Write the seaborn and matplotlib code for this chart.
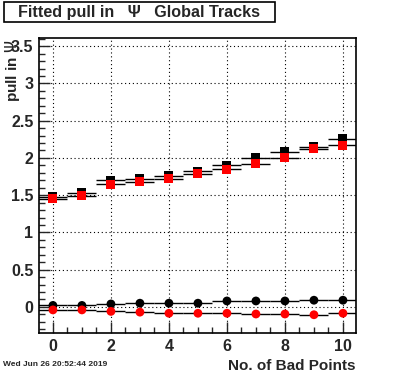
import numpy as np
import pandas as pd
import matplotlib
matplotlib.use("Agg")
import matplotlib.pyplot as plt
import seaborn as sns
from matplotlib.ticker import MultipleLocator
from matplotlib.patches import Rectangle

bad_points = [0, 1, 2, 3, 4, 5, 6, 7, 8, 9, 10]
pull_black_sq = [1.48, 1.53, 1.70, 1.72, 1.76, 1.82, 1.90, 2.00, 2.08, 2.15, 2.26]
pull_red_sq = [1.45, 1.49, 1.65, 1.68, 1.72, 1.79, 1.85, 1.92, 2.00, 2.12, 2.17]
pull_black_circ = [0.02, 0.02, 0.04, 0.05, 0.05, 0.05, 0.08, 0.08, 0.08, 0.09, 0.09]
pull_red_circ = [-0.04, -0.04, -0.06, -0.07, -0.085, -0.085, -0.085, -0.095, -0.095, -0.105, -0.085]

sns.set_theme(style="white")
plt.rcParams['font.family'] = ['Liberation Sans', 'DejaVu Sans']

fig = plt.figure(figsize=(3.96, 3.72), dpi=100)
ax = fig.add_axes([39/396, 1-333/372, (356-39)/396, (333-38)/372])

series = [
    (pull_black_sq, "black", "s", 42),
    (pull_red_sq, "red", "s", 42),
    (pull_black_circ, "black", "o", 40),
    (pull_red_circ, "red", "o", 40),
]
for vals, col, mk, sz in series:
    df = pd.DataFrame({"x": bad_points, "y": vals})
    ax.errorbar(df["x"], df["y"], xerr=0.5, fmt="none", ecolor="black",
                elinewidth=1.0, capsize=0, zorder=3)
    sns.scatterplot(data=df, x="x", y="y", ax=ax, color=col, marker=mk,
                    s=sz, edgecolor="none", linewidth=0, zorder=4, legend=False)

ax.set_xlim(-0.48, 10.45)
ax.set_ylim(-0.35, 3.61)
ax.xaxis.set_major_locator(MultipleLocator(2))
ax.xaxis.set_minor_locator(MultipleLocator(0.5))
ax.yaxis.set_major_locator(MultipleLocator(0.5))
ax.yaxis.set_minor_locator(MultipleLocator(0.1))
ax.grid(True, which="major", color="black", linestyle=(0, (1, 2.5)), linewidth=0.8)
ax.tick_params(axis="both", which="major", direction="in", length=8, width=1,
               labelsize=11.5, pad=4, bottom=True, left=True)
ax.tick_params(axis="both", which="minor", direction="in", length=4, width=1,
               bottom=True, left=True)
for lab in ax.get_xticklabels():
    lab.set_fontweight("bold")
ax.set_yticklabels(["" if t < -0.01 else ("%g" % t) for t in ax.get_yticks()],
                   fontweight="bold")
for s in ax.spines.values():
    s.set_color("black")
    s.set_linewidth(1.2)

ax.set_xlabel("No. of Bad Points", fontsize=11, fontweight="bold", loc="right")
ax.set_ylabel("pull in $\\Psi$", fontsize=11, fontweight="bold")
ax.yaxis.label.set_ha("right")
ax.yaxis.label.set_va("center")
ax.yaxis.set_label_coords((13-39)/317, 1.0 - 2/295)

fig.patches.append(Rectangle((4/396, 1-22/372), (275-4)/396, 20/372,
                             transform=fig.transFigure, facecolor="white",
                             edgecolor="black", linewidth=1.2))
fig.text(139.5/396, 1-12/372, "Fitted pull in   \u03a8   Global Tracks", fontsize=11.6,
         fontweight="bold", va="center", ha="center")
fig.text(3/396, 1-364/372, "Wed Jun 26 20:52:44 2019", fontsize=6, fontweight="bold",
         va="center", ha="left")

fig.savefig("out.png", dpi=100)
